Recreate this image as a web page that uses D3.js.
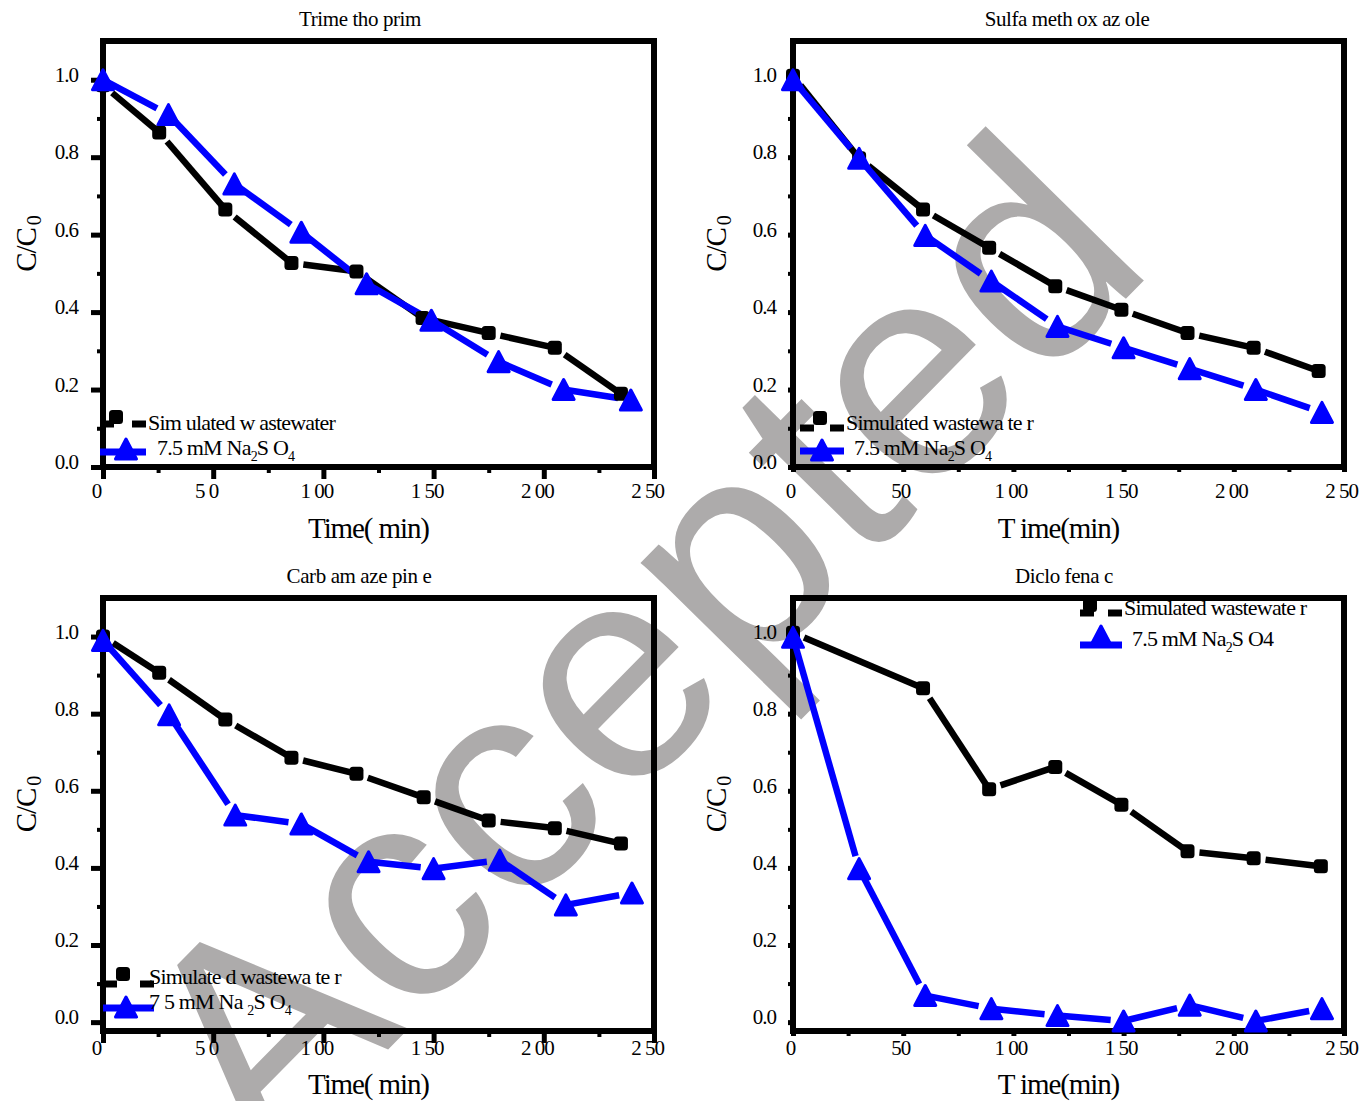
<!DOCTYPE html>
<html lang="en">
<head>
<meta charset="UTF-8">
<title>C/C0 versus time</title>
<script src="https://cdn.jsdelivr.net/npm/d3@7"></script>
<style>
  body { margin: 0; background: #fff; }
  svg text { font-family: "Liberation Serif", "Times New Roman", serif; fill: #000; }
  .watermark { font-family: "Liberation Sans", Arial, sans-serif !important; font-size: 305px; fill: #adabab !important; }
  .tick text { font-size: 21px; letter-spacing: -1px; }
  .title { font-size: 21px; letter-spacing: -0.4px; }
  .axis-title { font-size: 29px; letter-spacing: -1.1px; }
  .legend-text { font-size: 22px; letter-spacing: -0.8px; }
</style>
</head>
<body>
<svg id="chart" width="1371" height="1101"></svg>
<script>
// ---- data ----
const panelTitles = ['Trime tho prim', 'Sulfa meth ox az ole', 'Carb am aze pin e', 'Diclo fena c'];
const xTickValues = [0, 50, 100, 150, 200, 250];
const xMinorValues = [25, 75, 125, 175, 225];
const yTickValues = [0, 0.2, 0.4, 0.6, 0.8, 1.0];
const yMinorValues = [0.1, 0.3, 0.5, 0.7, 0.9];
const xTickLabelsLeft = ['0', '5 0', '1 00', '1 50', '2 00', '2 50'];
const xTickLabelsRight = ['0', '50', '1 00', '1 50', '2 00', '2 50'];

// Trimethoprim
const tmpTimeWW = [0, 25.5, 55.5, 85.5, 115, 145, 175, 205, 235];
const tmpWW = [0.986, 0.864, 0.665, 0.527, 0.505, 0.385, 0.346, 0.308, 0.189];
const tmpTimeNa = [0, 29.7, 59.6, 90, 119.6, 149, 179.5, 209, 239.5];
const tmpNa = [1.0, 0.91, 0.731, 0.606, 0.473, 0.379, 0.272, 0.2, 0.173];

// Sulfamethoxazole
const smxTimeWW = [0, 30, 59, 89, 119, 149, 179, 209, 238.5];
const smxWW = [1.01, 0.797, 0.665, 0.566, 0.467, 0.406, 0.346, 0.308, 0.248];
const smxTimeNa = [0, 30, 60, 90, 120, 150, 180, 210, 240];
const smxNa = [1.0, 0.797, 0.598, 0.48, 0.363, 0.308, 0.254, 0.2, 0.141];

// Carbamazepine
const cbzTimeWW = [0, 25.5, 55.5, 85.5, 115, 145.5, 175, 205, 235];
const cbzWW = [1.0, 0.906, 0.785, 0.686, 0.644, 0.583, 0.523, 0.503, 0.463];
const cbzTimeNa = [0, 30, 60, 90, 120.5, 150, 180, 210, 240];
const cbzNa = [0.99, 0.797, 0.537, 0.514, 0.416, 0.398, 0.42, 0.304, 0.335];

// Diclofenac
const dcfTimeWW = [0, 59, 89, 119, 149, 179, 209, 239.5];
const dcfWW = [1.01, 0.866, 0.604, 0.662, 0.564, 0.443, 0.425, 0.404];
const dcfTimeNa = [0, 30, 60, 90, 120, 150, 180, 210, 240];
const dcfNa = [0.998, 0.398, 0.069, 0.035, 0.017, 0.003, 0.044, 0.003, 0.035];

const legendWW = ['Sim ulated w astewater', 'Simulated  wastewa te r', 'Simulate d wastewa te r', 'Simulated  wastewate r'];
// parts: [text, isSubscript]
const legendNa = [
  [['7.5 mM  Na', 0], ['2', 1], ['S O', 0], ['4', 1]],
  [['7.5 mM  Na', 0], ['2', 1], ['S O', 0], ['4', 1]],
  [['7 5  mM Na ', 0], ['2', 1], ['S O', 0], ['4', 1]],
  [['7.5 mM  Na', 0], ['2', 1], ['S O4', 0]]
];
const xTitles = ['Time( min)', 'T ime(min)', 'Time( min)', 'T ime(min)'];

// ---- layout ----
const layout = [
  { l: 103, r: 654, t: 41, b: 467, yMin: 0, major: 12, minor: 6, xLab: 31, xDx: -7, yPad: 13, titleX: 360, xTitleY: 538,
    lg: { x0: 100, x1: 146, yB: 424, sq: [116, 417], yN: 452, tri: [126, 450], tx1: 148, tb1: 430, tx2: 157, tb2: 455 } },
  { l: 793, r: 1344, t: 41, b: 467, yMin: 0, major: 5, minor: 5, xLab: 31, xDx: -3, yPad: 12, titleX: 1067, xTitleY: 538,
    lg: { x0: 800, x1: 844, yB: 428, sq: [820, 418], yN: 451, tri: [822, 451], tx1: 846, tb1: 430, tx2: 854, tb2: 455 } },
  { l: 103, r: 654, t: 598, b: 1031, yMin: -0.023, major: 12, minor: 6, xLab: 24, xDx: -7, yPad: 13, titleX: 359, xTitleY: 1094,
    lg: { x0: 103, x1: 154, yB: 984, sq: [123, 974], yN: 1008, tri: [126, 1008], tx1: 149, tb1: 984, tx2: 149, tb2: 1009 } },
  { l: 793, r: 1344, t: 598, b: 1031, yMin: -0.023, major: 5, minor: 5, xLab: 24, xDx: -3, yPad: 12, titleX: 1064, xTitleY: 1094,
    lg: { x0: 1080, x1: 1122, yB: 613, sq: [1090, 605], yN: 645, tri: [1101, 637], tx1: 1124, tb1: 615, tx2: 1132, tb2: 646 } }
];

const series = [
  [tmpTimeWW, tmpWW, tmpTimeNa, tmpNa],
  [smxTimeWW, smxWW, smxTimeNa, smxNa],
  [cbzTimeWW, cbzWW, cbzTimeNa, cbzNa],
  [dcfTimeWW, dcfWW, dcfTimeNa, dcfNa]
];

const svg = d3.select('#chart');
svg.append('rect').attr('width', 1371).attr('height', 1101).attr('fill', '#fff');

// watermark sits under everything
svg.append('text')
  .attr('class', 'watermark')
  .attr('text-anchor', 'middle')
  .attr('transform', 'translate(712,720) rotate(-45.5)')
  .text('Accepted');

const triPath = 'M0,-11 L10.5,9 L-10.5,9 Z';

function gapSegments(pts, gapStart, gapEnd) {
  const segs = [];
  for (let i = 0; i < pts.length - 1; i++) {
    const [x0, y0] = pts[i], [x1, y1] = pts[i + 1];
    const len = Math.hypot(x1 - x0, y1 - y0);
    if (len <= gapStart + gapEnd) continue;
    const ux = (x1 - x0) / len, uy = (y1 - y0) / len;
    segs.push([x0 + ux * gapStart, y0 + uy * gapStart, x1 - ux * gapEnd, y1 - uy * gapEnd]);
  }
  return segs;
}

layout.forEach((p, i) => {
  const x = d3.scaleLinear([0, 250], [p.l, p.r]);
  const y = d3.scaleLinear([p.yMin, 1.1], [p.b, p.t]);
  const g = svg.append('g');
  const xLabels = (i % 2 === 0) ? xTickLabelsLeft : xTickLabelsRight;

  // minor ticks
  g.append('g').attr('transform', `translate(0,${p.b})`)
    .call(d3.axisBottom(x).tickValues(xMinorValues).tickSize(p.minor).tickFormat(''))
    .call(a => a.select('.domain').remove())
    .call(a => a.selectAll('line').attr('stroke-width', 4));
  g.append('g').attr('transform', `translate(${p.l},0)`)
    .call(d3.axisLeft(y).tickValues(yMinorValues).tickSize(p.minor).tickFormat(''))
    .call(a => a.select('.domain').remove())
    .call(a => a.selectAll('line').attr('stroke-width', 4));

  // major ticks + labels
  g.append('g').attr('transform', `translate(0,${p.b})`)
    .call(d3.axisBottom(x).tickValues(xTickValues).tickSize(p.major)
      .tickFormat((d, k) => xLabels[k]))
    .call(a => a.select('.domain').remove())
    .call(a => a.selectAll('line').attr('stroke-width', 5))
    .call(a => a.selectAll('text').attr('y', p.xLab).attr('dy', null).attr('dx', p.xDx));
  g.append('g').attr('transform', `translate(${p.l},0)`)
    .call(d3.axisLeft(y).tickValues(yTickValues).tickSize(p.major).tickPadding(p.yPad)
      .tickFormat(d3.format('.1f')))
    .call(a => a.select('.domain').remove())
    .call(a => a.selectAll('line').attr('stroke-width', 5))
    .call(a => a.selectAll('text').attr('y', -5));

  g.selectAll('.tick text').attr('font-family', null).attr('font-size', null);

  // frame
  g.append('rect')
    .attr('x', p.l).attr('y', p.t)
    .attr('width', p.r - p.l).attr('height', p.b - p.t)
    .attr('fill', 'none').attr('stroke', '#000').attr('stroke-width', 6);

  const [txW, vW, txN, vN] = series[i];
  const ptsW = txW.map((t, k) => [x(t), y(vW[k])]);
  const ptsN = txN.map((t, k) => [x(t), y(vN[k])]);

  // lines with gaps next to the symbols
  g.selectAll('line.ww').data(gapSegments(ptsW, 12, 3)).join('line')
    .attr('class', 'ww')
    .attr('x1', d => d[0]).attr('y1', d => d[1]).attr('x2', d => d[2]).attr('y2', d => d[3])
    .attr('stroke', '#000').attr('stroke-width', 6.5);
  g.selectAll('line.na').data(gapSegments(ptsN, 3, 13)).join('line')
    .attr('class', 'na')
    .attr('x1', d => d[0]).attr('y1', d => d[1]).attr('x2', d => d[2]).attr('y2', d => d[3])
    .attr('stroke', '#0000ff').attr('stroke-width', 6.5);

  g.selectAll('rect.sq').data(ptsW).join('rect')
    .attr('class', 'sq')
    .attr('x', d => d[0] - 7).attr('y', d => d[1] - 7)
    .attr('width', 14).attr('height', 14).attr('rx', 3.5)
    .attr('fill', '#000');
  g.selectAll('path.tri').data(ptsN).join('path')
    .attr('class', 'tri')
    .attr('d', triPath)
    .attr('transform', d => `translate(${d[0]},${d[1] + 1})`)
    .attr('fill', '#0000ff').attr('stroke', '#0000ff')
    .attr('stroke-width', 3).attr('stroke-linejoin', 'round');

  // titles
  g.append('text').attr('class', 'title')
    .attr('x', p.titleX).attr('y', p.t - 15)
    .attr('text-anchor', 'middle').text(panelTitles[i]);
  g.append('text').attr('class', 'axis-title')
    .attr('x', (p.l + p.r) / 2 - 10).attr('y', p.xTitleY)
    .attr('text-anchor', 'middle').text(xTitles[i]);
  const yt = g.append('text').attr('class', 'axis-title')
    .attr('text-anchor', 'middle')
    .attr('transform', `translate(${p.l - 67},${(p.t + p.b) / 2 - 10}) rotate(-90)`);
  yt.append('tspan').text('C/C');
  yt.append('tspan').attr('font-size', 20).attr('dy', 5).attr('dx', 3).text('0');

  // legend
  const lg = p.lg;
  g.append('line').attr('x1', lg.x0).attr('x2', lg.x0 + 14).attr('y1', lg.yB).attr('y2', lg.yB)
    .attr('stroke', '#000').attr('stroke-width', 7);
  g.append('line').attr('x1', lg.x1 - 14).attr('x2', lg.x1).attr('y1', lg.yB).attr('y2', lg.yB)
    .attr('stroke', '#000').attr('stroke-width', 7);
  g.append('rect').attr('x', lg.sq[0] - 7).attr('y', lg.sq[1] - 7)
    .attr('width', 14).attr('height', 14).attr('rx', 3.5).attr('fill', '#000');
  g.append('line').attr('x1', lg.x0).attr('x2', lg.x1).attr('y1', lg.yN).attr('y2', lg.yN)
    .attr('stroke', '#0000ff').attr('stroke-width', 7);
  g.append('path').attr('d', triPath)
    .attr('transform', `translate(${lg.tri[0]},${lg.tri[1]})`)
    .attr('fill', '#0000ff').attr('stroke', '#0000ff')
    .attr('stroke-width', 3).attr('stroke-linejoin', 'round');

  g.append('text').attr('class', 'legend-text')
    .attr('x', lg.tx1).attr('y', lg.tb1).text(legendWW[i]);
  const t2 = g.append('text').attr('class', 'legend-text')
    .attr('x', lg.tx2).attr('y', lg.tb2);
  legendNa[i].forEach(([s, sub], k) => {
    const ts = t2.append('tspan').text(s);
    if (sub) ts.attr('font-size', 14).attr('dy', 6);
    else if (k > 0 && legendNa[i][k - 1][1]) ts.attr('dy', -6);
  });
});
</script>
</body>
</html>
